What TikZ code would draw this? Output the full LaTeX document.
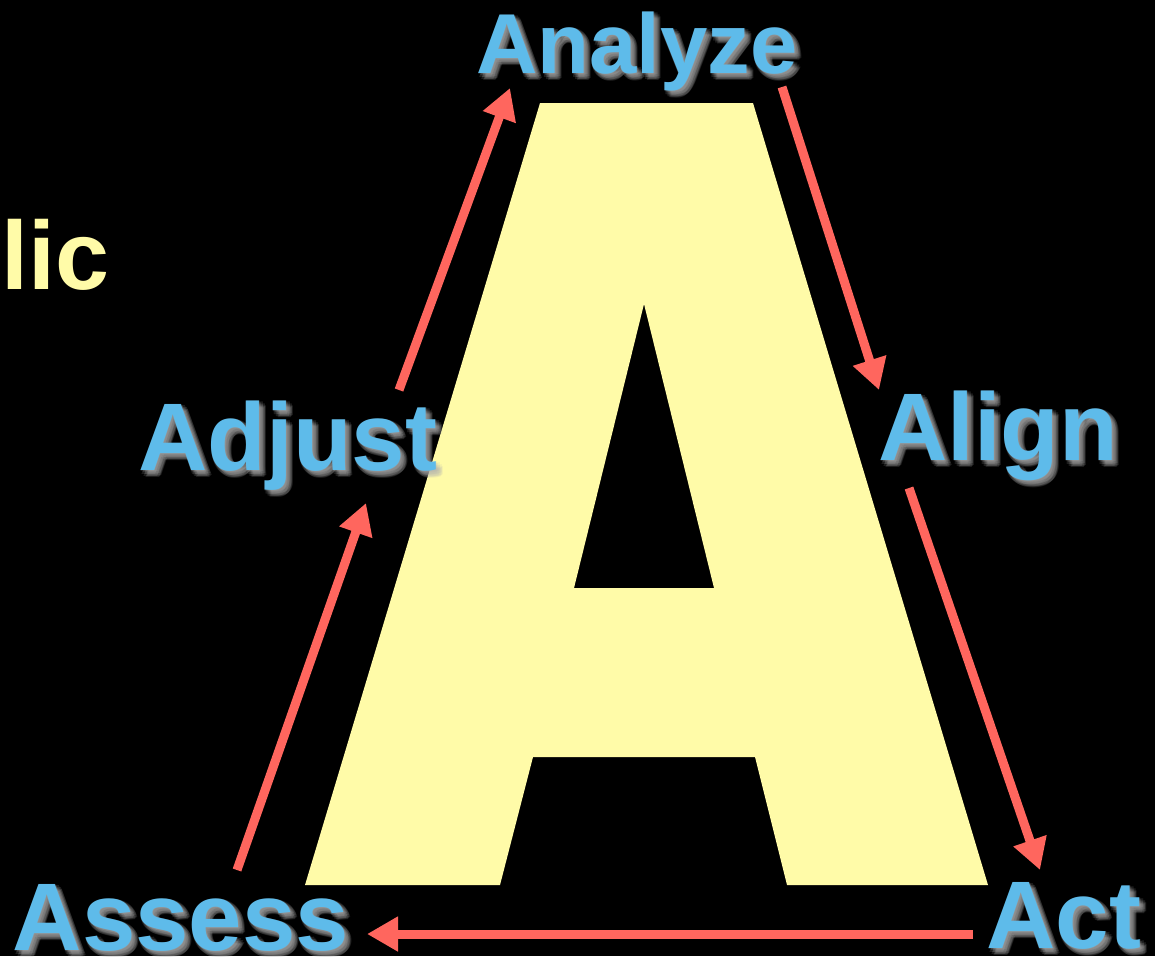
\documentclass[tikz,border=0pt]{standalone}
\usepackage{fontspec}
\setmainfont{Liberation Sans}
\usetikzlibrary{arrows.meta}
\definecolor{kek}{RGB}{94,187,234}
\definecolor{sarga}{RGB}{255,251,168}
\definecolor{piros}{RGB}{255,102,94}
\tikzset{
  cimke/.style={anchor=base,inner sep=0pt,font=\fontsize{96}{96}\selectfont\bfseries,text=kek},
  arny/.style={text=white!70!black,opacity=0.16},
  lepes/.style={line width=9pt,piros,-{Triangle[length=31pt,width=33pt]}},
}
% label with a soft grey glow
\newcommand{\felirat}[4][]{%
  \foreach \dx/\dy in {0/1,1/0,2/2,4/1,1/4,4/4,6/3,3/6,6/6,7/5,5/7}
    \node[cimke,#1,arny] at ([shift={(\dx,\dy)}]#3) {#4};
  \node[cimke,#1] (#2) at (#3) {#4};}

\begin{document}
\begin{tikzpicture}[x=1pt,y=-1pt]
  \fill[black] (0,0) rectangle (1155,956);
  \useasboundingbox (0,0) rectangle (1155,956);

  % the big letter
  \fill[sarga,even odd rule]
    (540,103) -- (753,103) -- (988,885) -- (787,885) -- (755,757) -- (533,757)
    -- (500,885) -- (305,885) -- cycle
    (644,304) -- (714,588) -- (574,588) -- cycle;

  \node[cimke,anchor=base west,text=sarga,font=\fontsize{97}{97}\selectfont\bfseries] (lic) at (1,289) {lic};

  \felirat[font=\fontsize{85}{85}\selectfont\bfseries]{analyze}{637,73}{Analyze}
  \felirat{align}{998,460}{Align}
  \felirat{act}{1064,948}{Act}
  \felirat{assess}{181,950}{Assess}
  \felirat{adjust}{288,470}{Adjust}

  % arrow ends
  \coordinate (an-be) at (510,88);  \coordinate (an-ki) at (782,87);
  \coordinate (al-be) at (879,390); \coordinate (al-ki) at (909,488);
  \coordinate (ac-be) at (1040,870);\coordinate (ac-ki) at (973,934);
  \coordinate (as-be) at (367,934); \coordinate (as-ki) at (237,870);
  \coordinate (ad-be) at (366,503); \coordinate (ad-ki) at (399,390);

  \draw[lepes] (an-ki) -- (al-be);
  \draw[lepes] (al-ki) -- (ac-be);
  \draw[lepes] (ac-ki) -- (as-be);
  \draw[lepes] (as-ki) -- (ad-be);
  \draw[lepes] (ad-ki) -- (an-be);
\end{tikzpicture}
\end{document}
